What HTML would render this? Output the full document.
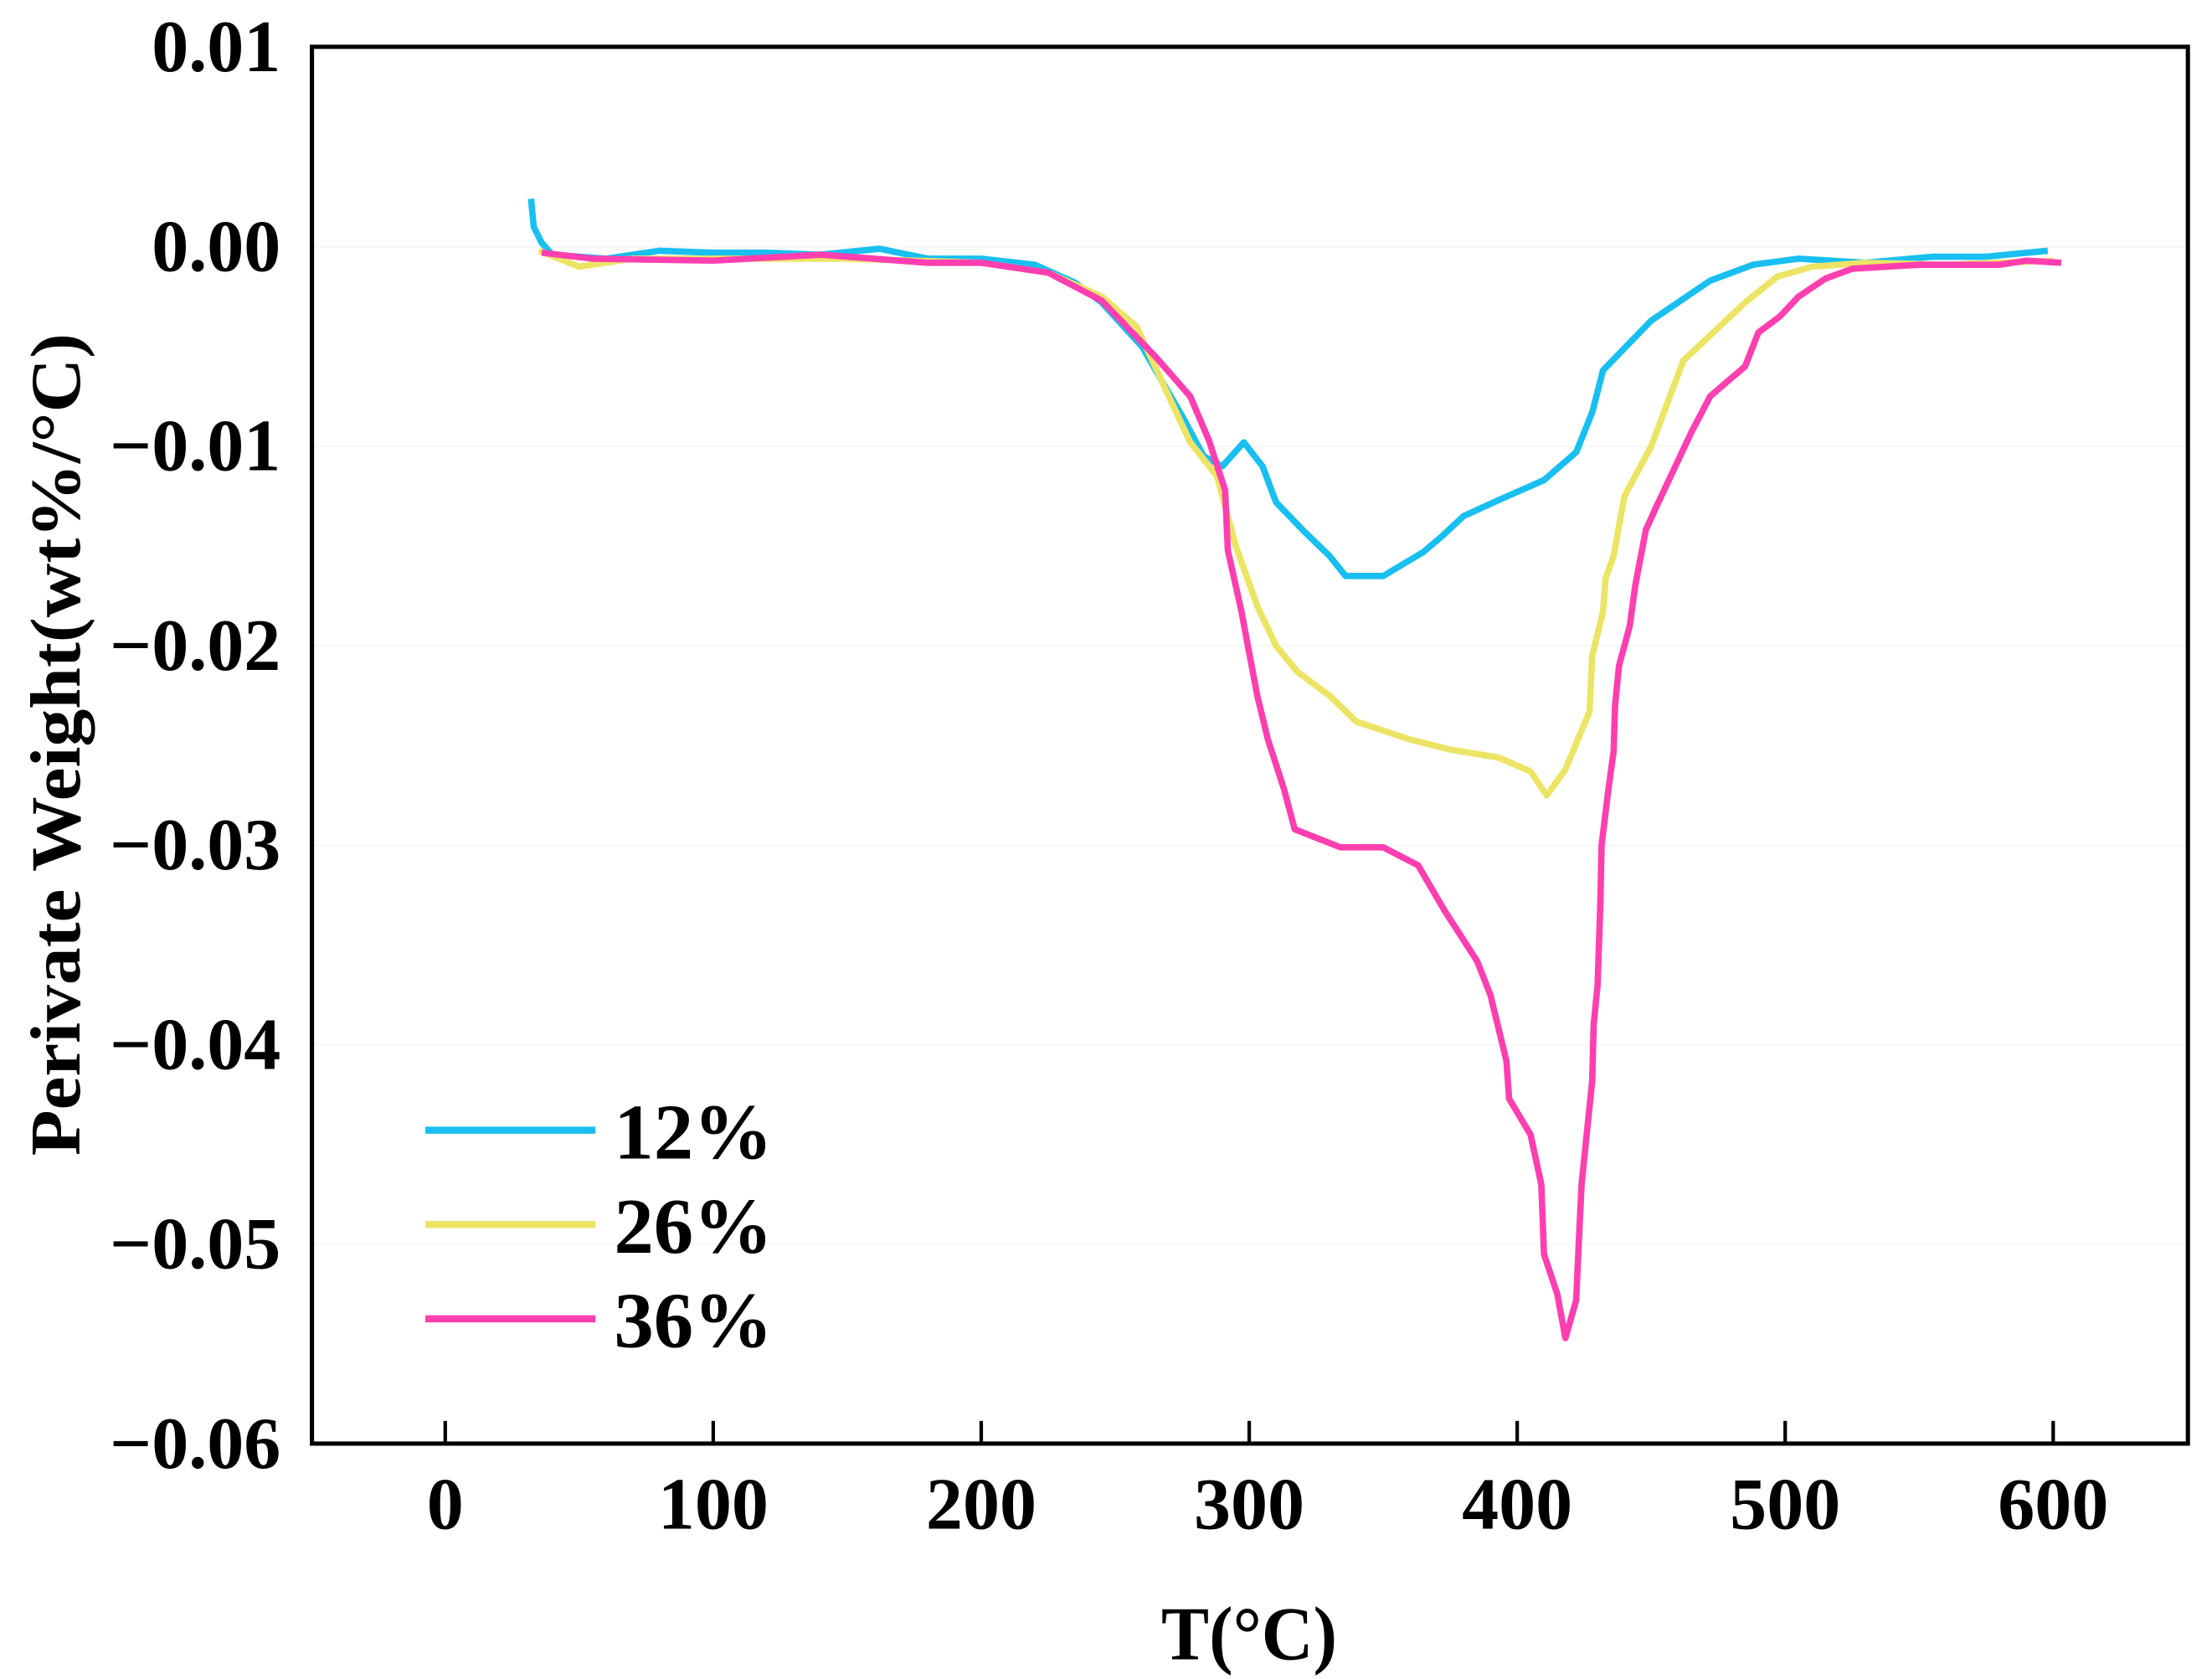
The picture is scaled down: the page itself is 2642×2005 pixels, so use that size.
<!DOCTYPE html>
<html><head><meta charset="utf-8"><style>
html,body{margin:0;padding:0;background:#fff;}
svg{display:block;}
text{font-family:"Liberation Serif","Times New Roman",serif;font-weight:bold;}
</style></head><body>
<svg id="chart" width="2642" height="2005" viewBox="0 0 1560 1184" preserveAspectRatio="none" xmlns="http://www.w3.org/2000/svg">
<g id="grid"></g>
<g id="series"></g>
<rect x="220" y="33" width="1323" height="985" fill="none" stroke="#000" stroke-width="3"/>
<g id="axes"></g>
<text transform="translate(56,525) rotate(-90)" text-anchor="middle" font-size="50" textLength="580" lengthAdjust="spacingAndGlyphs">Perivate Weight(wt%/°C)</text>
<text x="881" y="1170" text-anchor="middle" font-size="54" textLength="124" lengthAdjust="spacingAndGlyphs">T(°C)</text>
<g id="legend"></g>
</svg>
<script>
const xTicks=[0,100,200,300,400,500,600];
const yTicks=[0.01,0,-0.01,-0.02,-0.03,-0.04,-0.05,-0.06];
const yTickLabels=["0.01","0.00","\u22120.01","\u22120.02","\u22120.03","\u22120.04","\u22120.05","\u22120.06"];
const seriesNames=["12%","26%","36%"];
const seriesColors=["#19bff0","#ece465","#ff3fb0"];
const t12=[32,33,36,40,60,80,100,120,140,162,180,200,220,235,245,260,275,283,290,298,305,310,320,330,336,350,365,372,380,393,410,422,428,432,450,472,488,505,530,555,575,598];
const v12=[0.0024,0.001,0.0002,-0.0004,-0.0006,-0.0002,-0.0003,-0.0003,-0.0004,-0.0001,-0.0006,-0.0006,-0.0009,-0.0018,-0.0028,-0.005,-0.0085,-0.0105,-0.011,-0.0098,-0.011,-0.0128,-0.0142,-0.0155,-0.0165,-0.0165,-0.0153,-0.0145,-0.0135,-0.0127,-0.0117,-0.0103,-0.0083,-0.0062,-0.0037,-0.0017,-0.0009,-0.0006,-0.0008,-0.0005,-0.0005,-0.0002];
const t26=[35,50,70,100,150,200,225,245,258,270,278,288,295,303,310,318,330,340,360,375,393,405,411,418,427,428,432,433,436,440,450,462,470,485,497,510,530,560,600];
const v26=[-0.0002,-0.001,-0.0006,-0.0006,-0.0006,-0.0008,-0.0013,-0.0025,-0.004,-0.0075,-0.0098,-0.0115,-0.015,-0.018,-0.02,-0.0213,-0.0225,-0.0238,-0.0247,-0.0252,-0.0256,-0.0263,-0.0275,-0.0262,-0.0233,-0.0205,-0.0183,-0.0166,-0.0155,-0.0125,-0.01,-0.0057,-0.0047,-0.0028,-0.0015,-0.001,-0.0008,-0.0009,-0.0007];
const t36=[36,55,100,140,180,200,225,245,265,278,285,291,292,297,303,307,313,317,334,350,363,373,385,390,396,397,405,409,410,415,418,422,423,424,428,428.5,430,431,431.5,434,436,436.5,438,442,444,448,452,465,472,478,485,490,498,505,515,525,550,580,590,603];
const v36=[-0.0003,-0.0006,-0.0007,-0.0004,-0.0008,-0.0008,-0.0013,-0.0027,-0.0055,-0.0075,-0.0097,-0.0122,-0.0152,-0.0182,-0.0225,-0.0247,-0.0272,-0.0292,-0.0301,-0.0301,-0.031,-0.0333,-0.0358,-0.0375,-0.0408,-0.0427,-0.0445,-0.047,-0.0505,-0.0525,-0.0547,-0.0528,-0.0498,-0.047,-0.0418,-0.039,-0.037,-0.033,-0.03,-0.0272,-0.0253,-0.023,-0.021,-0.019,-0.017,-0.0142,-0.013,-0.0093,-0.0075,-0.0068,-0.006,-0.0043,-0.0035,-0.0025,-0.0016,-0.0011,-0.0009,-0.0009,-0.0007,-0.0008];
const NS="http://www.w3.org/2000/svg";
function X(t){return 314+t*1.89;}
function Y(v){return 174-v*14070;}
function mk(tag,attrs,parent){const e=document.createElementNS(NS,tag);for(const k in attrs)e.setAttribute(k,attrs[k]);parent.appendChild(e);return e;}
const grid=document.getElementById('grid'),axes=document.getElementById('axes'),ser=document.getElementById('series'),leg=document.getElementById('legend');
yTicks.forEach((v,i)=>{
  if(i>0&&i<yTicks.length-1){const g=mk('line',{x1:220,x2:1543,y1:Y(v),y2:Y(v),stroke:'#f4f4f4','stroke-width':1},grid);
  
  }
  const t=mk('text',{x:198,y:Y(v)+17,'text-anchor':'end','font-size':52},axes);t.textContent=yTickLabels[i];
  
  
});
xTicks.forEach(v=>{
  const l=mk('line',{x1:X(v),x2:X(v),y1:1018,y2:1002,stroke:'#000','stroke-width':2.5},axes);
  
  
  const t=mk('text',{x:X(v),y:1078,'text-anchor':'middle','font-size':52},axes);t.textContent=String(v);
  
  
});
const data=[[t12,v12],[t26,v26],[t36,v36]];
data.forEach((d,i)=>{
  const pts=d[0].map((t,j)=>X(t).toFixed(1)+','+Y(d[1][j]).toFixed(1)).join(' ');
  const p=mk('polyline',{points:pts,fill:'none',stroke:seriesColors[i],'stroke-width':4.5,'stroke-linejoin':'round'},ser);
  
  
  const ly=797+i*66.5;
  const l=mk('line',{x1:300,x2:420,y1:ly,y2:ly,stroke:seriesColors[i],'stroke-width':5},leg);
  
  
  const t=mk('text',{x:433,y:ly+20,'font-size':56},leg);t.textContent=seriesNames[i];
  
  
});
</script>
</body></html>
